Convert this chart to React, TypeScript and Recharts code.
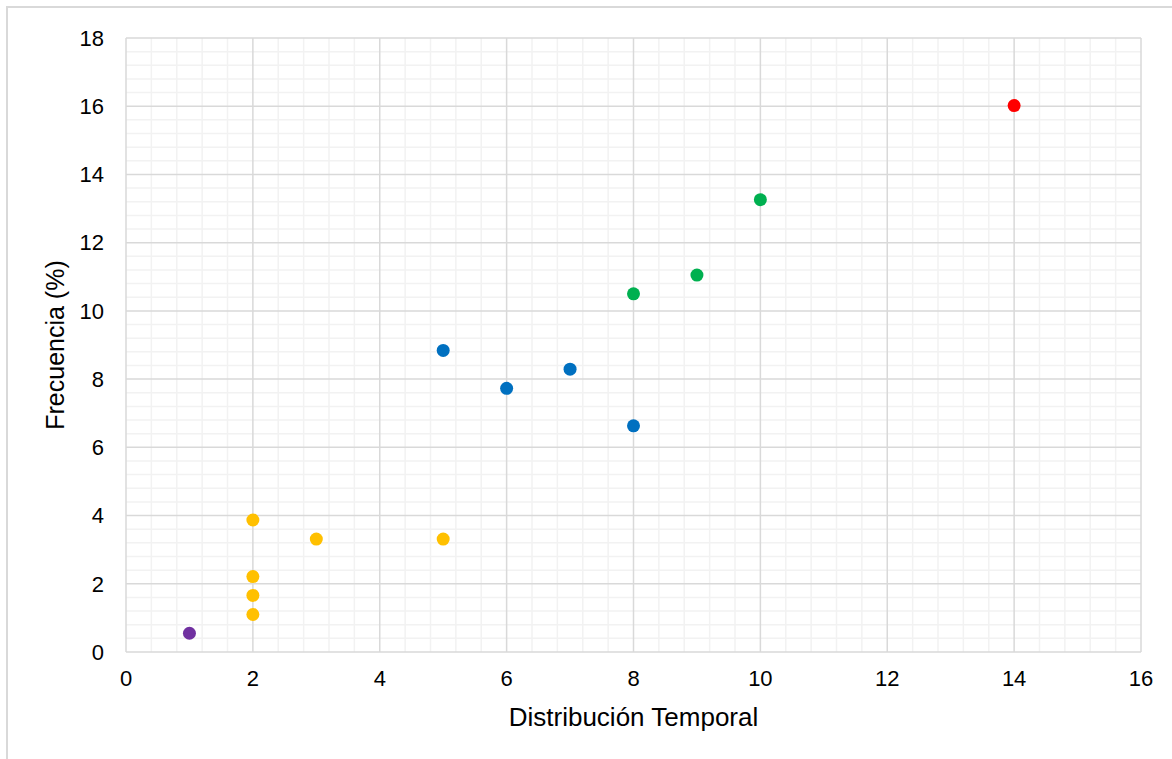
import { ScatterChart, Scatter, XAxis, YAxis, ReferenceLine, Label } from "recharts";

const xTicks = [0, 2, 4, 6, 8, 10, 12, 14, 16];
const yTicks = [0, 2, 4, 6, 8, 10, 12, 14, 16, 18];

// puntos por grupo (color)
const purplePts = [{ x: 1, y: 0.55 }];
const yellowPts = [
  { x: 2, y: 3.87 },
  { x: 2, y: 2.21 },
  { x: 2, y: 1.66 },
  { x: 2, y: 1.1 },
  { x: 3, y: 3.31 },
  { x: 5, y: 3.31 },
];
const bluePts = [
  { x: 5, y: 8.84 },
  { x: 6, y: 7.73 },
  { x: 7, y: 8.29 },
  { x: 8, y: 6.63 },
];
const greenPts = [
  { x: 8, y: 10.5 },
  { x: 9, y: 11.05 },
  { x: 10, y: 13.26 },
];
const redPts = [{ x: 14, y: 16.02 }];

const minorStep = 0.4;
const minorLines = (max: number) =>
  Array.from({ length: Math.round(max / minorStep) + 1 }, (_, i) => Math.round(i * minorStep * 10) / 10).filter(
    (v) => Math.abs(v / 2 - Math.round(v / 2)) > 1e-6
  );

const FONT = "'Liberation Sans', Arial, sans-serif";

const dot = (color: string) => (p: any) => <circle cx={p.cx} cy={p.cy} r={6.5} fill={color} />;

export default function App() {
  return (
    <div style={{ position: "fixed", left: 0, top: 0, width: 1172, height: 759, overflow: "hidden", background: "#fff" }}>
      <div
        style={{
          position: "absolute",
          left: 6,
          top: 6,
          width: 1300,
          height: 900,
          border: "2px solid #d9d9d9",
        }}
      />
      <div style={{ position: "absolute", left: 0, top: 0 }}>
        <ScatterChart width={1172} height={759} margin={{ top: 38, right: 31, left: 0, bottom: 0 }}>
          <XAxis
            type="number"
            dataKey="x"
            domain={[0, 16]}
            ticks={xTicks}
            interval={0}
            axisLine={false}
            tickLine={false}
            tickSize={0}
            tickMargin={18}
            height={107}
            tick={{ fill: "#000", fontSize: 22, fontFamily: FONT }}
          >
            <Label
              content={(props: any) => {
                const vb = props.viewBox;
                return (
                  <text
                    x={vb.x + vb.width / 2}
                    y={717}
                    textAnchor="middle"
                    dominantBaseline="central"
                    fontSize={26}
                    fontFamily={FONT}
                    fill="#000"
                  >
                    Distribución Temporal
                  </text>
                );
              }}
            />
          </XAxis>
          <YAxis
            type="number"
            dataKey="y"
            domain={[0, 18]}
            ticks={yTicks}
            interval={0}
            axisLine={false}
            tickLine={false}
            tickSize={0}
            tickMargin={22}
            width={126}
            tick={{ fill: "#000", fontSize: 22, fontFamily: FONT }}
          >
            <Label
              content={(props: any) => {
                const vb = props.viewBox;
                const cy = vb.y + vb.height / 2;
                return (
                  <text
                    x={55}
                    y={cy}
                    transform={`rotate(-90 55 ${cy})`}
                    textAnchor="middle"
                    dominantBaseline="central"
                    fontSize={25}
                    fontFamily={FONT}
                    fill="#000"
                  >
                    Frecuencia (%)
                  </text>
                );
              }}
            />
          </YAxis>
          {minorLines(16).map((v) => (
            <ReferenceLine key={"mx" + v} x={v} stroke="#f2f2f2" strokeWidth={1.5} />
          ))}
          {minorLines(18).map((v) => (
            <ReferenceLine key={"my" + v} y={v} stroke="#f2f2f2" strokeWidth={1.5} />
          ))}
          {xTicks.map((v) => (
            <ReferenceLine key={"Mx" + v} x={v} stroke="#d9d9d9" strokeWidth={1.5} />
          ))}
          {yTicks.map((v) => (
            <ReferenceLine key={"My" + v} y={v} stroke="#d9d9d9" strokeWidth={1.5} />
          ))}
          <Scatter data={purplePts} fill="#7030A0" shape={dot("#7030A0")} isAnimationActive={false} />
          <Scatter data={yellowPts} fill="#FFC000" shape={dot("#FFC000")} isAnimationActive={false} />
          <Scatter data={bluePts} fill="#0070C0" shape={dot("#0070C0")} isAnimationActive={false} />
          <Scatter data={greenPts} fill="#00B050" shape={dot("#00B050")} isAnimationActive={false} />
          <Scatter data={redPts} fill="#FF0000" shape={dot("#FF0000")} isAnimationActive={false} />
        </ScatterChart>
      </div>
    </div>
  );
}
